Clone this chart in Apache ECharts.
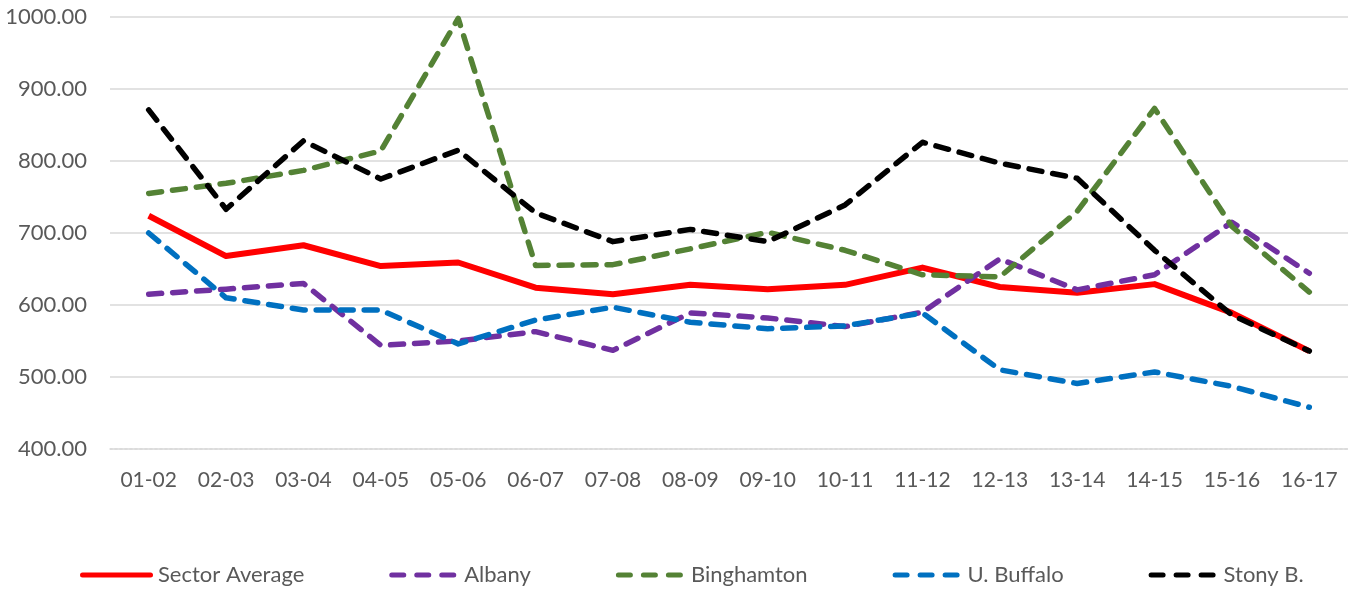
<!DOCTYPE html>
<html>
<head>
<meta charset="utf-8">
<script src="https://cdn.jsdelivr.net/npm/echarts@6/dist/echarts.min.js"></script>
<style>
html,body{margin:0;padding:0;background:#fff;}
#chart{width:1362px;height:592px;}
</style>
</head>
<body>
<div id="chart"></div>
<script>
const categories = ['01-02','02-03','03-04','04-05','05-06','06-07','07-08','08-09','09-10','10-11','11-12','12-13','13-14','14-15','15-16','16-17'];
const sectorAverage = [724, 668, 683, 654, 659, 624, 615, 628, 622, 628, 652, 625, 617, 629, 589, 536];
const albany        = [615, 622, 630, 544, 550, 563, 537, 589, 582, 570, 590, 664, 621, 642, 715, 644];
const binghamton    = [755, 769, 787, 814, 998, 655, 656, 678, 701, 676, 642, 639, 730, 873, 709, 618];
const buffalo       = [700, 610, 593, 593, 546, 579, 597, 576, 567, 571, 589, 510, 491, 507, 487, 458];
const stonyBrook    = [871, 733, 828, 775, 815, 728, 688, 705, 688, 739, 826, 797, 776, 676, 586, 536];
const yTicks = { min: 400, max: 1000, interval: 100 };

const textColor = '#595959';
const fontFamily = 'Lato, "Open Sans", sans-serif';
const dash = [13, 11];

const dashIcon = 'path://M2.5,0h12a2.5,2.5 0 0 1 0,5h-12a2.5,2.5 0 0 1 0,-5z' +
  'M27.5,0h12a2.5,2.5 0 0 1 0,5h-12a2.5,2.5 0 0 1 0,-5z' +
  'M52.5,0h12a2.5,2.5 0 0 1 0,5h-12a2.5,2.5 0 0 1 0,-5z';
const solidIcon = 'path://M2.5,0h68a2.5,2.5 0 0 1 0,5h-68a2.5,2.5 0 0 1 0,-5z';

function dashed(name, data, color) {
  return {
    name, type: 'line', data, showSymbol: false, symbol: 'none', silent: true,
    lineStyle: { color, width: 5.5, type: dash, cap: 'round', join: 'round' },
    itemStyle: { color }
  };
}

const chart = echarts.init(document.getElementById('chart'), null, { renderer: 'canvas' });
chart.setOption({
  animation: false,
  backgroundColor: '#ffffff',
  grid: { left: 110, right: 14, top: 17, bottom: 143, containLabel: false },
  legend: {
    bottom: 1, left: 75, itemGap: 85, itemWidth: 73, itemHeight: 5,
    textStyle: { color: textColor, fontSize: 22, fontFamily },
    data: [
      { name: 'Sector Average', icon: solidIcon },
      { name: 'Albany', icon: dashIcon },
      { name: 'Binghamton', icon: dashIcon },
      { name: 'U. Buffalo', icon: dashIcon },
      { name: 'Stony B.', icon: dashIcon }
    ]
  },
  xAxis: {
    type: 'category', data: categories, boundaryGap: true,
    axisLine: { show: true, lineStyle: { color: '#D9D9D9', type: [2, 3], width: 1.5 } },
    axisTick: { show: false },
    axisLabel: { color: textColor, fontSize: 21, fontFamily, margin: 21 }
  },
  yAxis: {
    type: 'value', min: yTicks.min, max: yTicks.max, interval: yTicks.interval,
    axisLine: { show: false }, axisTick: { show: false },
    axisLabel: { color: textColor, fontSize: 22, fontFamily, margin: 23,
      formatter: v => v.toFixed(2) },
    splitLine: { lineStyle: { color: '#D9D9D9', width: 1.5 } }
  },
  series: [
    { name: 'Sector Average', type: 'line', data: sectorAverage, showSymbol: false, symbol: 'none', silent: true,
      lineStyle: { color: '#FF0000', width: 6, join: 'round' }, itemStyle: { color: '#FF0000' } },
    dashed('Albany', albany, '#7030A0'),
    dashed('Binghamton', binghamton, '#548235'),
    dashed('U. Buffalo', buffalo, '#0070C0'),
    dashed('Stony B.', stonyBrook, '#000000')
  ]
});
</script>
</body>
</html>
